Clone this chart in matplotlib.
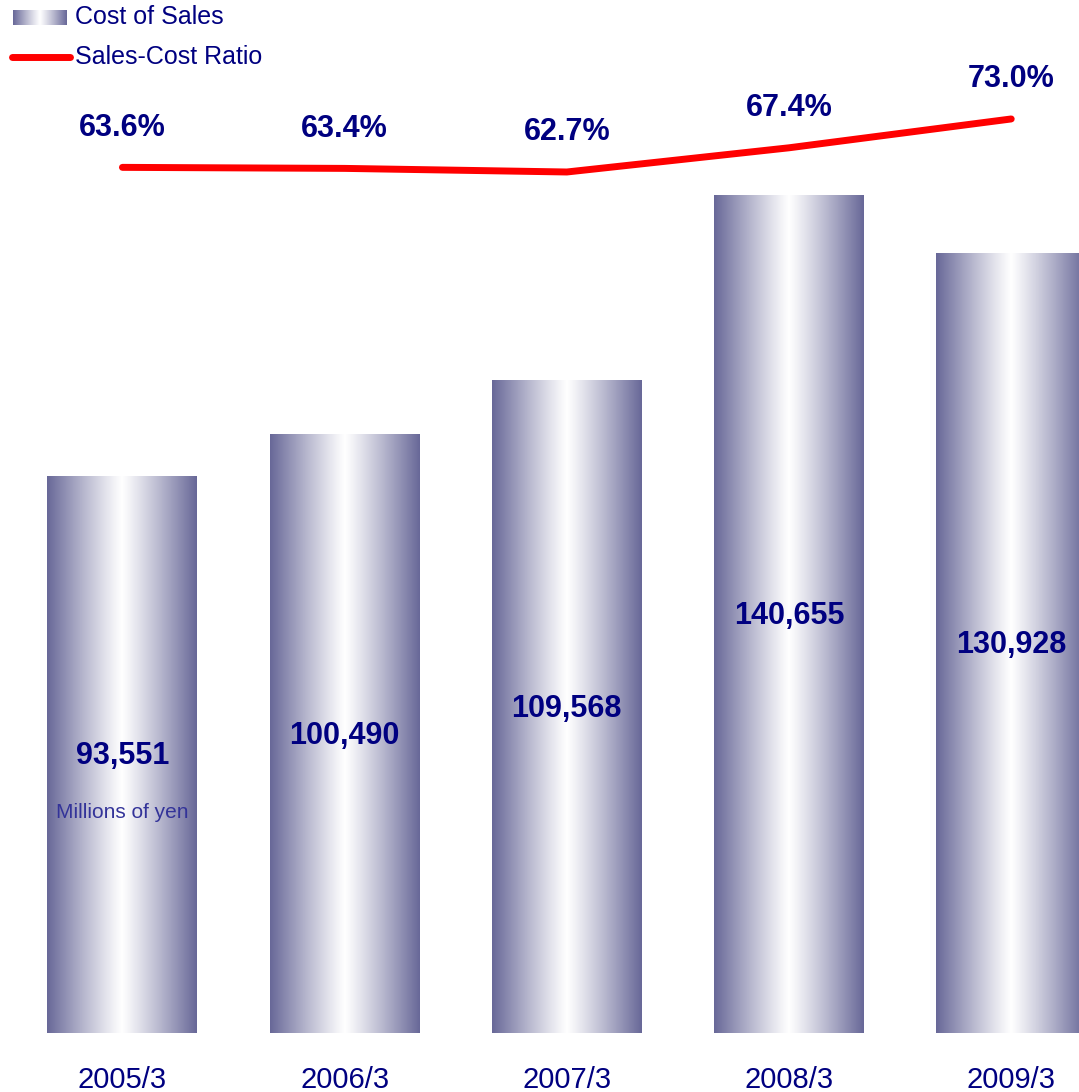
import numpy as np
import matplotlib
matplotlib.use('Agg')
import matplotlib.pyplot as plt
from matplotlib.lines import Line2D

years = ['2005/3', '2006/3', '2007/3', '2008/3', '2009/3']
cost_of_sales = [93551, 100490, 109568, 140655, 130928]
cost_ratio = [63.6, 63.4, 62.7, 67.4, 73.0]

navy = '#000080'
edge_col = np.array([104, 104, 152]) / 255.0

plt.rcParams['font.family'] = ['Liberation Sans', 'DejaVu Sans']

W, H = 1079, 1092
fig = plt.figure(figsize=(W / 100, H / 100), dpi=100)
ax = fig.add_axes([0, 59 / H, 1, 1033 / H])
ax.set_xlim(-0.551, 4.305)
ax.set_ylim(0, 173500)
ax.axis('off')

# horizontal gradient: dark at the edges, white in the middle
t = np.linspace(-1, 1, 256)
w = np.abs(t) ** 1.1
grad = (1 - w)[:, None] * np.ones(3) + w[:, None] * edge_col
grad = grad[None, :, :]

bar_w = 0.675
x = np.arange(len(years))
for xi, v in zip(x, cost_of_sales):
    ax.imshow(grad, extent=(xi - bar_w / 2, xi + bar_w / 2, 0, v),
              aspect='auto', interpolation='bilinear', zorder=1)
    ax.text(xi, v / 2 - 300, f'{v:,}', ha='center', va='center', fontsize=22,
            fontweight='bold', color=navy, zorder=3)
    ax.text(xi, -7900, years[xi], ha='center', va='center', fontsize=21,
            color=navy, clip_on=False)

ax.text(0, 37100, 'Millions of yen', ha='center', va='center', fontsize=15,
        color='#333399', zorder=3)

# ratio line on its own scale
ax2 = ax.twinx()
ax2.set_ylim(-104.5, 96.1)
ax2.axis('off')
ax2.plot(x, cost_ratio, color='red', lw=5, solid_capstyle='round', zorder=4)
for xi, r in zip(x, cost_ratio):
    ax2.annotate(f'{r:.1f}%', (xi, r), xytext=(0, 28.5), textcoords='offset points',
                 ha='center', va='center', fontsize=22, fontweight='bold',
                 color=navy)

# legend
lax = fig.add_axes([13 / W, 1 - 25 / H, 54 / W, 15 / H])
lax.imshow(grad, aspect='auto', interpolation='bilinear')
lax.axis('off')
fig.text(75 / W, 1 - 17 / H, 'Cost of Sales', fontsize=18, color=navy,
         va='center', ha='left')
fig.add_artist(Line2D([12 / W, 70 / W], [1 - 57 / H, 1 - 57 / H], color='red',
                      lw=5, solid_capstyle='round'))
fig.text(75 / W, 1 - 57 / H, 'Sales-Cost Ratio', fontsize=18, color=navy,
         va='center', ha='left')

fig.savefig('out.png', dpi=100)
